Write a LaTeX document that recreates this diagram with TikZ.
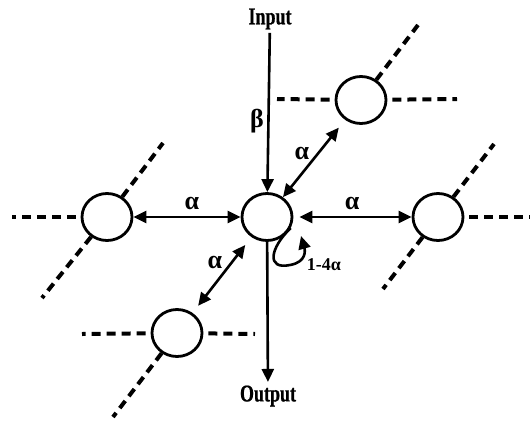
\documentclass[tikz,border=0pt]{standalone}
\usepackage{fontspec}
\setmainfont{Liberation Serif}
\newfontfamily\ioFont{Liberation Serif}[FakeStretch=0.75,FakeBold=0.8]
\usetikzlibrary{arrows.meta,shapes.geometric}

\begin{document}
\begin{tikzpicture}[x=1pt,y=-1pt,
    cell/.style={draw,ellipse,line width=2.8pt,minimum width=50pt,minimum height=47pt,inner sep=0pt},
    link/.style={line width=2.6pt,-{Triangle[length=13pt,width=12pt]}},
    dlink/.style={line width=2.6pt,{Triangle[length=13pt,width=12pt]}-{Triangle[length=13pt,width=12pt]}},
    lattice/.style={line width=4pt,dash pattern=on 9pt off 6pt},
    lbl/.style={font=\fontsize{26}{26}\selectfont\bfseries},
    io/.style={font=\ioFont\fontsize{24}{24}\selectfont\bfseries}]
  \useasboundingbox (0,0) rectangle (532,423);
  % cells of the lattice
  \node[cell] (c) at (267,217) {};
  \node[cell] (ne) at (361,100) {};
  \node[cell] (w) at (107,217) {};
  \node[cell] (e) at (438,217) {};
  \node[cell] (sw) at (177,333) {};
  % free ends of the dashed lattice lines
  \foreach \n/\x/\y in {neW/277/99, neE/457/99, neNE/418/25,
      wW/12/217, wNE/163/143, wSW/42/298,
      eE/530/217, eNE/494/144, eSW/383/289,
      swW/82/334, swE/255/334, swSW/113/417} {
    \coordinate (\n) at (\x,\y);
  }
  % horizontal lattice lines
  \foreach \a/\b in {ne/neW, ne/neE, w/wW, e/eE, sw/swW, sw/swE} {
    \draw[lattice,shorten <=5pt] (\a) -- (\b);
  }
  % diagonal lattice lines
  \foreach \a/\b in {ne/neNE, w/wNE, w/wSW, e/eNE, e/eSW, sw/swSW} {
    \draw[lattice] (\a) -- (\b);
  }
  % input and output
  \node[io] (in) at (270,19) {Input};
  \node[io] (out) at (268,396) {Output};
  \draw[link] (in) -- (c);
  \draw[link] (c) -- (out);
  \node[lbl] (beta) at (257,121) {β};
  % couplings to the neighbours
  \draw[dlink] (w) -- (c);
  \draw[dlink,shorten <=6pt] (c) -- (e);
  \draw[dlink,shorten >=10pt] (c) -- (ne);
  \draw[dlink,shorten <=10pt,shorten >=9pt] (c) -- (sw);
  \node[lbl] (aw) at (192,203) {α};
  \node[lbl] (ae) at (352,203) {α};
  \node[lbl] (ane) at (302,153) {α};
  \node[lbl] (asw) at (215,262) {α};
  % self coupling
  \coordinate (loopend) at (301,236);
  \draw[link] (c.-25) .. controls (270,248) and (266,270) .. (290,265)
    .. controls (307,262) and (305,250) .. (loopend);
  \node[font=\fontsize{18}{18}\selectfont\bfseries] (self) at (324,265) {1-4α};
\end{tikzpicture}
\end{document}
